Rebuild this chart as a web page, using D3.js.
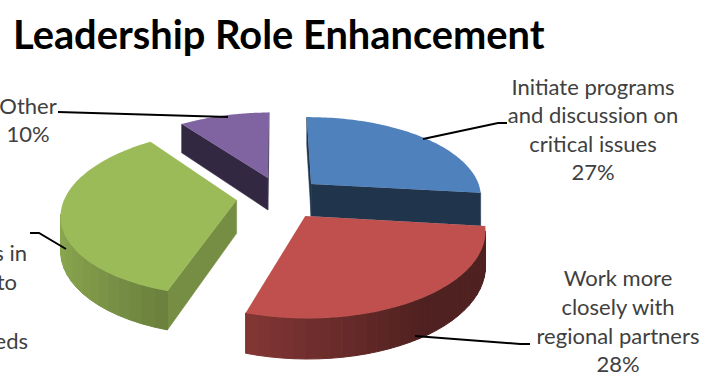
<!DOCTYPE html>
<html>
<head>
<meta charset="utf-8">
<script src="https://cdn.jsdelivr.net/npm/d3@7/dist/d3.min.js"></script>
<style>
html,body{margin:0;padding:0;background:#fff;overflow:hidden}
text{font-family:Lato,"Open Sans",sans-serif;fill:#404040}
</style>
</head>
<body>
<svg id="chart" width="710" height="392"></svg>
<script>
// Survey shares, clockwise from twelve o'clock
const categories = ["Initiate programs and discussion on critical issues", "Work more closely with regional partners", "Regional needs", "Other"];
const shares = [27, 28, 35, 10];
const sliceColors = ["#4f81bd", "#c0504d", "#9bbb59", "#8064a2"];
const titleText = "Leadership Role Enhancement";

// Projection of the tilted disc
const cx = 291, cy = 195, rx = 171, ry = 80, persp = 0.15, thickness = 33;
const rotation = -0.7 * Math.PI / 180;
// How far each slice is pulled out of the disc, in radius units
const sliceOffsets = [[0.12, 0.14], [0.08, -0.2525], [-0.315, -0.062], [-0.14, 0.22]];
const faceShade = [0.4, 0.5, 0.76, 0.4];
const paintOrder = [3, 0, 2, 1];

const svg = d3.select("#chart");
const pie = d3.pie().sort(null).value(d => d)
  .startAngle(rotation).endAngle(2 * Math.PI + rotation);
const arcs = pie(shares);

function project(X, Y, Z) {
  const s = 1 / (1 + persp * Y);
  return [cx + rx * X * s, cy - ry * Y * s - Z * thickness * s];
}
const shade = (color, f) => d3.interpolateRgb("#000", color)(f);
const rimShade = a => Math.max(0.41, 0.587 - 0.31 * Math.sin(a));
const polyPath = d3.line();
const signedArea = pts => d3.polygonArea(pts);

paintOrder.forEach(i => {
  const arc = arcs[i];
  const [ox, oy] = sliceOffsets[i];
  const rim = (a, z) => project(ox + Math.sin(a), oy + Math.cos(a), z);
  const apex = z => project(ox, oy, z);
  const g = svg.append("g");
  const color = sliceColors[i];

  // flat cut faces, kept only where they turn toward the viewer
  [[arc.startAngle, 1], [arc.endAngle, -1]].forEach(([a, dir]) => {
    const q = [apex(0), rim(a, 0), rim(a, -1), apex(-1)];
    if (signedArea(q) * dir > 0) {
      const c = shade(color, faceShade[i]);
      g.append("path").attr("d", polyPath(q) + "Z").attr("fill", c).attr("stroke", c).attr("stroke-width", 0.5);
    }
  });

  // outer wall, split into narrow bands that darken with the direction they face
  const steps = d3.range(0, 31).map(k => arc.startAngle + (arc.endAngle - arc.startAngle) * k / 30);
  d3.pairs(steps).forEach(([a0, a1]) => {
    const q = [rim(a0, 0), rim(a1, 0), rim(a1, -1), rim(a0, -1)];
    if (signedArea(q) > 0) {
      const c = shade(color, rimShade((a0 + a1) / 2));
      g.append("path").attr("d", polyPath(q) + "Z").attr("fill", c).attr("stroke", c).attr("stroke-width", 1);
    }
  });

  // top face
  const top = [apex(0)].concat(d3.range(0, 81).map(k => rim(arc.startAngle + (arc.endAngle - arc.startAngle) * k / 80, 0)));
  g.append("path").attr("d", polyPath(top) + "Z").attr("fill", color);
});

// Leader lines
const leaders = [
  [[423, 139], [498, 123], [507, 123]],
  [[415, 336], [520, 344], [530, 344]],
  [[66, 249], [39, 233], [30, 233]],
  [[228, 117], [58, 112]]
];
svg.selectAll("path.leader").data(leaders).enter().append("path")
  .attr("class", "leader")
  .attr("d", d => polyPath(d))
  .attr("fill", "none").attr("stroke", "#000").attr("stroke-width", 2);

// Title
svg.append("text").attr("x", 13).attr("y", 49)
  .attr("font-size", 39.8).attr("font-weight", 700)
  .style("fill", "#000").text(titleText);

// Data labels; the third one runs past the left edge of the page
const labelBlocks = [
  {x: 593, anchor: "middle", ys: [95, 123, 152, 180], lines: ["Initiate programs", "and discussion on", "critical issues", "27%"]},
  {x: 618, anchor: "middle", ys: [286, 315, 344, 372], lines: ["Work more", "closely with", "regional partners", "28%"]},
  {x: 28, anchor: "middle", ys: [114, 142], lines: ["Other", "10%"]},
  {x: 27, anchor: "end", ys: [261], lines: ["s in"]},
  {x: 17, anchor: "end", ys: [290], lines: ["to"]},
  {x: 28, anchor: "end", ys: [349], lines: ["eds"]}
];
labelBlocks.forEach(b => {
  b.lines.forEach((t, k) => {
    svg.append("text").attr("x", b.x).attr("y", b.ys[k])
      .attr("text-anchor", b.anchor).attr("font-size", 22).text(t);
  });
});
</script>
</body>
</html>
